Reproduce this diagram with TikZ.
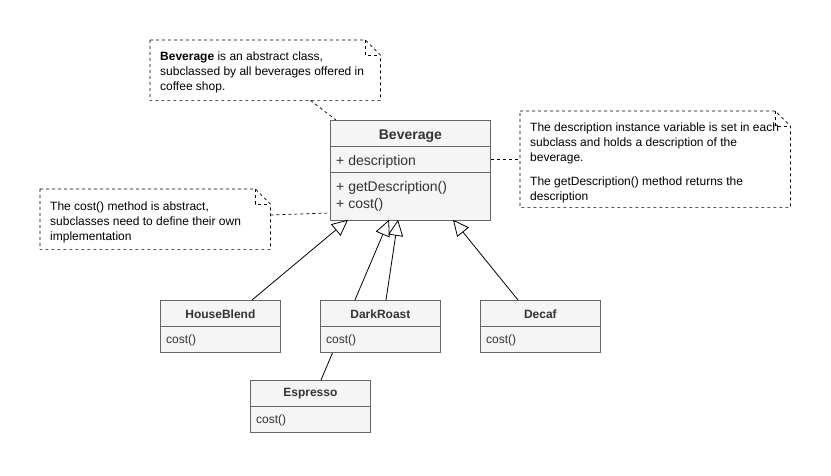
\documentclass[tikz,border=0pt]{standalone}
\usepackage{fontspec}
\setmainfont{Liberation Sans}
\usetikzlibrary{arrows.meta}
\definecolor{boxfill}{HTML}{F5F5F5}
\definecolor{boxline}{HTML}{666666}
\definecolor{txtgray}{HTML}{333333}
\tikzset{
  cls/.style={draw=boxline, fill=boxfill, line width=0.8pt, anchor=north west, inner sep=0pt, minimum width=120pt, minimum height=52pt},
  sep/.style={draw=boxline, line width=0.8pt},
  ctitle/.style={font=\bfseries\fontsize{12}{14}\selectfont, text=txtgray, inner sep=0pt},
  cmeth/.style={font=\fontsize{12}{14}\selectfont, text=txtgray, inner sep=0pt, anchor=west},
  notebox/.style={anchor=north west, inner sep=0pt},
  noteline/.style={draw=black, line width=0.7pt, dash pattern=on 3pt off 3pt},
  notetext/.style={anchor=north west, inner sep=0pt, align=left, font=\fontsize{12}{15}\selectfont},
  inherit/.style={draw=black, line width=0.8pt, -{Triangle[open,length=16pt,width=15pt,fill=white]}},
}
\newcommand{\notefold}[1]{%
  \draw[noteline] (#1.north west) -- ([xshift=-15pt]#1.north east) -- ([yshift=-15pt]#1.north east) -- (#1.south east) -- (#1.south west) -- cycle;
  \draw[noteline] ([xshift=-15pt]#1.north east) -- ([xshift=-15pt,yshift=-15pt]#1.north east) -- ([yshift=-15pt]#1.north east);
}
\begin{document}
\begin{tikzpicture}[x=1pt,y=-1pt]
\useasboundingbox (0,0) rectangle (831,476);
\fill[white] (0,0) rectangle (831,476);

% Notes
\node[notebox, minimum width=230pt, minimum height=60pt] (n1) at (150,40) {};
\notefold{n1}
\node[notetext] (n1t) at (160,52) {\textbf{Beverage} is an abstract class,\\subclassed by all beverages offered in\\coffee shop.};

\node[notebox, minimum width=270pt, minimum height=96pt] (n2) at (520,111) {};
\notefold{n2}
\node[notetext] (n2t) at (530,123) {The description instance variable is set in each\\subclass and holds a description of the\\beverage.\\[9pt]The getDescription() method returns the\\description};

\node[notebox, minimum width=230pt, minimum height=60pt] (n3) at (40,189) {};
\notefold{n3}
\node[notetext] (n3t) at (50,202) {The cost() method is abstract,\\subclasses need to define their own\\implementation};

% Beverage
\node[cls, minimum width=160pt, minimum height=100pt] (bev) at (330,120) {};
\draw[sep] ([yshift=-26pt]bev.north west) -- ([yshift=-26pt]bev.north east);
\draw[sep] ([yshift=-52pt]bev.north west) -- ([yshift=-52pt]bev.north east);
\node[ctitle, font=\bfseries\fontsize{14}{16}\selectfont] (bevt) at ([yshift=-16pt]bev.north) {Beverage};
\node[cmeth, font=\fontsize{14}{16}\selectfont] (beva) at ([xshift=6pt,yshift=-42pt]bev.north west) {+ description};
\node[cmeth, font=\fontsize{14}{16}\selectfont] (bevm1) at ([xshift=6pt,yshift=-68pt]bev.north west) {+ getDescription()};
\node[cmeth, font=\fontsize{14}{16}\selectfont] (bevm2) at ([xshift=6pt,yshift=-85pt]bev.north west) {+ cost()};

% Subclasses
\foreach \n/\t/\x/\y in {hb/HouseBlend/160/300, dc/Decaf/480/300, es/Espresso/250/380}{
  \node[cls] (\n) at (\x,\y) {};
  \draw[sep] ([yshift=-26pt]\n.north west) -- ([yshift=-26pt]\n.north east);
  \node[ctitle] (\n t) at ([yshift=-14pt]\n.north) {\t};
  \node[cmeth] (\n m) at ([xshift=6pt,yshift=-40pt]\n.north west) {cost()};
}

% Note connectors
\draw[noteline] ([xshift=-70pt]n1.south east) -- ([xshift=6pt]bev.north west);
\draw[noteline] ([yshift=-39pt]bev.north east) -- ([yshift=-48pt]n2.north west);
\draw[noteline] ([yshift=-26pt]n3.north east) -- ([yshift=-93pt]bev.north west);

% Inheritance: Espresso line passes behind DarkRoast
\draw[inherit] ([xshift=71pt]es.north west) -- ([xshift=59pt,yshift=1pt]bev.south west);
% DarkRoast drawn on top of the Espresso line
\node[cls] (dr) at (320,300) {};
\draw[sep] ([yshift=-26pt]dr.north west) -- ([yshift=-26pt]dr.north east);
\node[ctitle] (drt) at ([yshift=-14pt]dr.north) {DarkRoast};
\node[cmeth] (drm) at ([xshift=6pt,yshift=-40pt]dr.north west) {cost()};

\draw[inherit] ([xshift=92pt]hb.north west) -- ([xshift=18pt,yshift=1pt]bev.south west);
\draw[inherit] ([xshift=66pt]dr.north west) -- ([xshift=68pt,yshift=1pt]bev.south west);
\draw[inherit] ([xshift=38pt]dc.north west) -- ([xshift=123pt,yshift=1pt]bev.south west);
\end{tikzpicture}
\end{document}
